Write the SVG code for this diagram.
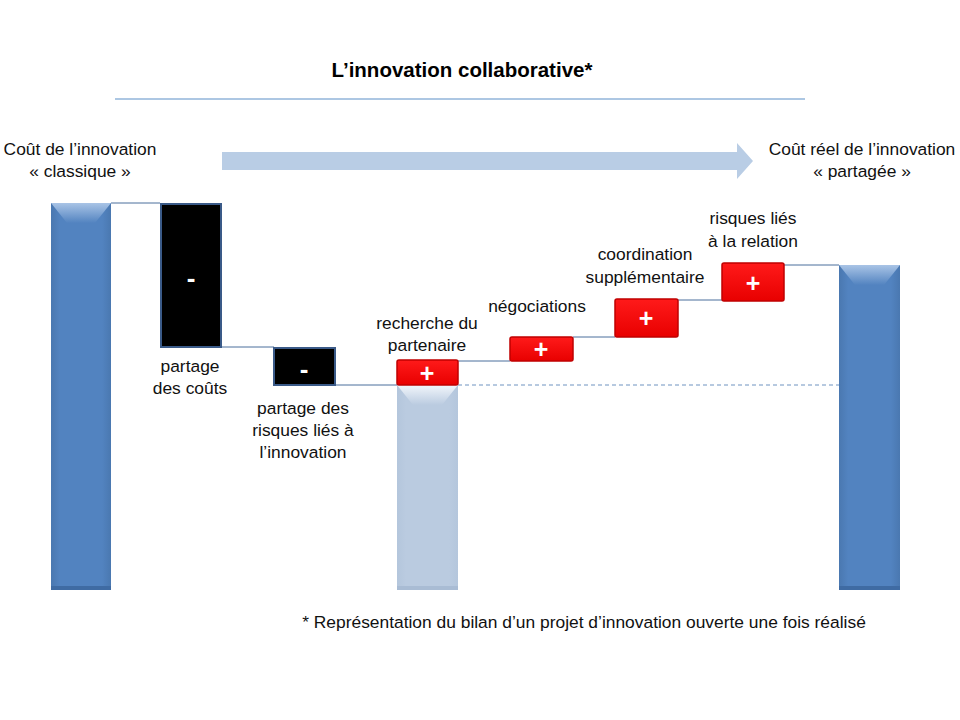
<svg xmlns="http://www.w3.org/2000/svg" width="960" height="720" viewBox="0 0 960 720">
<defs>
<linearGradient id="barG" x1="0" y1="0" x2="1" y2="0">
<stop offset="0" stop-color="#4a78b0"/><stop offset="0.15" stop-color="#5283c0"/><stop offset="0.85" stop-color="#5283c0"/><stop offset="1" stop-color="#4a78b0"/>
</linearGradient>
<linearGradient id="bevG" x1="0" y1="0" x2="0" y2="1">
<stop offset="0" stop-color="#a9c4e6"/><stop offset="1" stop-color="#5283c0"/>
</linearGradient>
<linearGradient id="lightG" x1="0" y1="0" x2="1" y2="0">
<stop offset="0" stop-color="#b4c6dc"/><stop offset="0.15" stop-color="#bacbe0"/><stop offset="0.85" stop-color="#bacbe0"/><stop offset="1" stop-color="#b4c6dc"/>
</linearGradient>
<linearGradient id="lightBev" x1="0" y1="0" x2="0" y2="1">
<stop offset="0" stop-color="#f2f6fb"/><stop offset="1" stop-color="#bacbe0"/>
</linearGradient>
<linearGradient id="redG" x1="0" y1="0" x2="0" y2="1">
<stop offset="0" stop-color="#ff1a1a"/><stop offset="1" stop-color="#e80000"/>
</linearGradient>
</defs>
<style>
text{font-family:"Liberation Sans",Arial,sans-serif;font-size:17.4px;fill:#111;text-anchor:middle}
.title{font-weight:bold;font-size:20.5px;fill:#000}
.sign{font-weight:bold;font-size:26px;fill:#fff}
.plus{font-weight:bold;font-size:25px;fill:#fff}
.conn{stroke:#4a6f9c;stroke-width:1;fill:none}
.dash{stroke:#6f93c0;stroke-width:1;stroke-dasharray:4 3;fill:none}
.black{fill:#000;stroke:#3a5a88;stroke-width:2}
.red{fill:url(#redG);stroke:#c00000;stroke-width:1.5}
</style>
<rect width="960" height="720" fill="#fff"/>

<g id="title">
<text class="title" x="462" y="77">L’innovation collaborative*</text>
<line x1="115" y1="99" x2="805" y2="99" stroke="#5b8fc7" stroke-width="1"/>
</g>

<g id="arrow">
<polygon points="222,152 737,152 737,143 753,161 737,179 737,170 222,170" fill="#b9cde5"/>
</g>

<g id="label-start">
<text x="80" y="155">Coût de l’innovation</text>
<text x="80" y="177">« classique »</text>
</g>
<g id="label-end">
<text x="862" y="155">Coût réel de l’innovation</text>
<text x="862" y="177">« partagée »</text>
</g>

<g id="connectors">
<line class="conn" x1="111" y1="203" x2="160" y2="203"/>
<line class="conn" x1="222" y1="347" x2="274" y2="347"/>
<line class="conn" x1="335" y1="385" x2="397" y2="385"/>
<line class="conn" x1="458" y1="361" x2="510" y2="361"/>
<line class="conn" x1="573" y1="337" x2="615" y2="337"/>
<line class="conn" x1="678" y1="300" x2="722" y2="300"/>
<line class="conn" x1="784" y1="265" x2="839" y2="265"/>
<line class="dash" x1="458" y1="385" x2="839" y2="385"/>
</g>

<g id="bar-classique">
<rect x="51" y="203" width="60" height="387" fill="url(#barG)"/>
<polygon points="51,203 111,203 95,223 67,223" fill="url(#bevG)"/>
<rect x="51" y="586" width="60" height="4" fill="#3f6ba3"/>
</g>

<g id="box-partage-couts">
<rect class="black" x="161" y="204" width="60" height="143"/>
<text class="sign" x="191" y="287">-</text>
<text x="190" y="372">partage</text>
<text x="190" y="394">des coûts</text>
</g>

<g id="box-partage-risques">
<rect class="black" x="274" y="348" width="61" height="37"/>
<text class="sign" x="304" y="378">-</text>
<text x="303" y="414">partage des</text>
<text x="303" y="436">risques liés à</text>
<text x="303" y="458">l’innovation</text>
</g>

<g id="bar-light">
<rect x="397" y="385" width="61" height="205" fill="url(#lightG)"/>
<polygon points="397,385 458,385 442,405 413,405" fill="url(#lightBev)"/>
<rect x="397" y="586" width="61" height="4" fill="#a9bcd4"/>
</g>

<g id="box-recherche">
<rect class="red" x="397" y="360" width="61" height="25" rx="2"/>
<text class="plus" x="427" y="382">+</text>
<text x="427" y="329">recherche du</text>
<text x="427" y="351">partenaire</text>
</g>

<g id="box-negociations">
<rect class="red" x="510" y="337" width="63" height="24" rx="2"/>
<text class="plus" x="541" y="358">+</text>
<text x="537" y="312">négociations</text>
</g>

<g id="box-coordination">
<rect class="red" x="615" y="299" width="63" height="38" rx="2"/>
<text class="plus" x="646" y="327">+</text>
<text x="645" y="260">coordination</text>
<text x="645" y="283">supplémentaire</text>
</g>

<g id="box-relation">
<rect class="red" x="722" y="263" width="62" height="38" rx="2"/>
<text class="plus" x="753" y="292">+</text>
<text x="753" y="224">risques liés</text>
<text x="753" y="247">à la relation</text>
</g>

<g id="bar-partagee">
<rect x="839" y="265" width="61" height="325" fill="url(#barG)"/>
<polygon points="839,265 900,265 884,285 855,285" fill="url(#bevG)"/>
<rect x="839" y="586" width="61" height="4" fill="#3f6ba3"/>
</g>

<g id="footnote">
<text x="584" y="628">* Représentation du bilan d’un projet d’innovation ouverte une fois réalisé</text>
</g>
</svg>
